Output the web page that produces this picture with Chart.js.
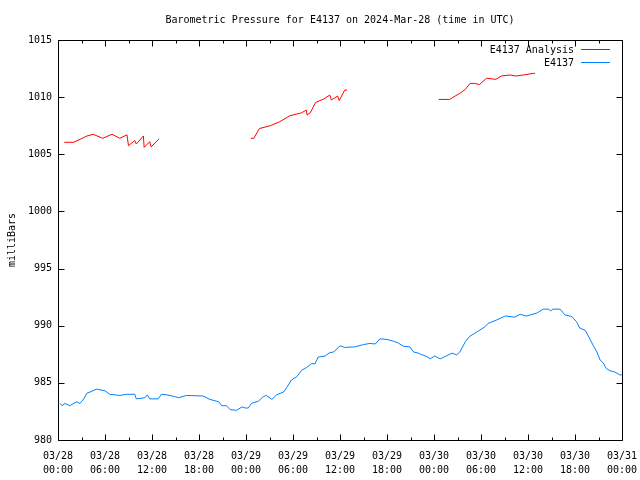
<!DOCTYPE html>
<html>
<head>
<meta charset="utf-8">
<script src="https://cdn.jsdelivr.net/npm/chart.js@4.4.1/dist/chart.umd.min.js"></script>
<style>
  html, body { margin: 0; padding: 0; background: #fff; }
  canvas { display: block; }
</style>
</head>
<body>
<canvas id="pressureChart" width="640" height="480"></canvas>
<script>
// Hours since 2024-03-28 00:00 UTC
const tickLabels = [
    ['03/28', '00:00'], ['03/28', '06:00'], ['03/28', '12:00'], ['03/28', '18:00'],
    ['03/29', '00:00'], ['03/29', '06:00'], ['03/29', '12:00'], ['03/29', '18:00'],
    ['03/30', '00:00'], ['03/30', '06:00'], ['03/30', '12:00'], ['03/30', '18:00'],
    ['03/31', '00:00']
];

const seriesNames = ['E4137 Analysis', 'E4137'];
const seriesColors = ['#ff0000', '#0080ff'];

// Analysis series (gaps are null)
const analysisHours = [
    0.8, 2.0, 3.7, 4.5, 5.7, 6.9, 7.9, 8.8, 9.0, 9.8, 10.0, 10.9, 11.0, 11.7, 11.9, 12.9,
    18.0,
    24.6, 25.0, 25.7, 27.1, 28.3, 29.6, 31.1, 31.7, 31.8, 32.2, 32.9, 33.9, 34.7, 34.9, 35.7, 35.9, 36.6, 36.9,
    42.0,
    48.6, 50.0, 50.7, 51.3, 52.0, 52.6, 53.2, 53.8, 54.7, 55.9, 56.6, 57.7, 58.5, 59.4, 60.7, 60.9
];
const analysisValues = [
    1006.05, 1006.05, 1006.6, 1006.75, 1006.4, 1006.75, 1006.4, 1006.7, 1005.75, 1006.2, 1005.9, 1006.6, 1005.6, 1006.1, 1005.65, 1006.35,
    null,
    1006.4, 1006.4, 1007.25, 1007.5, 1007.85, 1008.37, 1008.63, 1008.87, 1008.43, 1008.63, 1009.54, 1009.83, 1010.18, 1009.75, 1010.1, 1009.7, 1010.62, 1010.62,
    null,
    1009.8, 1009.8, 1010.1, 1010.33, 1010.68, 1011.2, 1011.2, 1011.1, 1011.65, 1011.56, 1011.85, 1011.94, 1011.85, 1011.94, 1012.08, 1012.08
];

// Observed series
const obsHours = [
    0.3, 0.5, 0.9, 1.5, 2.4, 2.8, 3.2, 3.7, 4.1, 4.9, 6.0, 6.6, 7.9, 8.8, 9.8, 10.0,
    11.1, 11.4, 11.7, 12.8, 13.2, 13.9, 14.9, 15.4, 16.4, 18.5, 19.4, 20.5, 20.9, 21.5,
    22.0, 22.8, 23.5, 23.9, 24.3, 24.7, 25.6, 26.2, 26.6, 27.3, 27.9, 28.8, 29.2, 29.8,
    30.5, 31.1, 31.75, 32.4, 32.8, 33.2, 34.1, 34.7, 35.2, 36.0, 36.6, 37.9, 39.0, 39.8,
    40.5, 41.1, 42.0, 42.8, 43.4, 44.1, 44.9, 45.4, 46.0, 46.3, 47.1, 47.5, 48.1, 48.8,
    49.4, 50.3, 50.9, 51.3, 52.0, 52.6, 53.0, 53.7, 54.5, 54.9, 56.0, 57.1, 58.3, 59.0,
    59.8, 61.1, 61.95, 62.6, 62.9, 63.2, 64.1, 64.7, 65.6, 66.2, 66.6, 67.3, 67.7, 68.3,
    68.8, 69.2, 69.6, 70.0, 70.5, 71.1, 71.7, 72.0
];
const obsValues = [
    983.2, 983.0, 983.2, 983.0, 983.35, 983.2, 983.5, 984.1, 984.2, 984.45, 984.3, 984.0, 983.9, 984.0, 984.0, 983.6,
    983.7, 983.95, 983.6, 983.6, 984.0, 983.95, 983.8, 983.7, 983.9, 983.85, 983.55, 983.35, 983.0, 983.0,
    982.65, 982.6, 982.9, 982.8, 982.8, 983.2, 983.4, 983.8, 983.9, 983.55, 983.95, 984.2, 984.6, 985.25,
    985.55, 986.1, 986.35, 986.7, 986.65, 987.25, 987.35, 987.65, 987.7, 988.25, 988.1, 988.15, 988.35, 988.45,
    988.4, 988.85, 988.8, 988.65, 988.5, 988.2, 988.15, 987.7, 987.6, 987.5, 987.3, 987.1, 987.35, 987.1,
    987.3, 987.6, 987.45, 987.7, 988.6, 989.1, 989.25, 989.55, 989.9, 990.2, 990.5, 990.85, 990.75, 991.0,
    990.85, 991.1, 991.45, 991.45, 991.3, 991.45, 991.45, 990.95, 990.8, 990.35, 989.8, 989.6, 989.1, 988.3,
    987.7, 987.0, 986.75, 986.25, 986.05, 985.95, 985.7, 985.7
];

const FONT = '10px "DejaVu Sans Mono", "Liberation Mono", monospace';

// Frame, inward ticks, title and legend in gnuplot style
const gnuplotDecor = {
    id: 'gnuplotDecor',
    afterDraw(chart) {
        const ctx = chart.ctx;
        const area = chart.chartArea;
        const xs = chart.scales.x;
        const ys = chart.scales.y;
        const L = Math.round(area.left) + 0.5, R = Math.round(area.right) + 0.5;
        const T = Math.round(area.top) + 0.5, B = Math.round(area.bottom) + 0.5;

        ctx.save();
        ctx.strokeStyle = '#000';
        ctx.lineWidth = 1;
        ctx.beginPath();
        ctx.rect(L, T, R - L, B - T);

        // x ticks: major every 6 h, minor every 3 h
        for (let h = 0; h <= 72; h += 3) {
            const px = Math.round(xs.getPixelForValue(h)) + 0.5;
            const len = (h % 6 === 0) ? 6 : 3;
            ctx.moveTo(px, B); ctx.lineTo(px, B - len);
            ctx.moveTo(px, T); ctx.lineTo(px, T + len);
        }
        // y ticks every 5 mb
        for (let v = 980; v <= 1015; v += 5) {
            const py = Math.round(ys.getPixelForValue(v)) + 0.5;
            ctx.moveTo(L, py); ctx.lineTo(L + 6, py);
            ctx.moveTo(R, py); ctx.lineTo(R - 6, py);
        }
        ctx.stroke();

        // title
        ctx.fillStyle = '#000';
        ctx.font = FONT;
        ctx.textAlign = 'center';
        ctx.textBaseline = 'middle';
        ctx.fillText('Barometric Pressure for E4137 on 2024-Mar-28 (time in UTC)', (area.left + area.right) / 2, 20);

        // legend (text right-aligned, then a short line sample)
        ctx.textAlign = 'right';
        seriesNames.forEach((name, i) => {
            const y = 49 + i * 13;
            ctx.fillStyle = '#000';
            ctx.fillText(name, 574, y + 1);
            ctx.fillStyle = seriesColors[i];
            ctx.fillRect(581, y, 29, 1);
        });
        ctx.restore();
    }
};

const ctx = document.getElementById('pressureChart').getContext('2d');

new Chart(ctx, {
    type: 'line',
    data: {
        datasets: [
            {
                label: seriesNames[0],
                data: analysisHours.map((h, i) => ({ x: h, y: analysisValues[i] })),
                borderColor: seriesColors[0],
                borderWidth: 1,
                pointRadius: 0,
                spanGaps: false,
                tension: 0
            },
            {
                label: seriesNames[1],
                data: obsHours.map((h, i) => ({ x: h, y: obsValues[i] })),
                borderColor: seriesColors[1],
                borderWidth: 1,
                pointRadius: 0,
                tension: 0
            }
        ]
    },
    options: {
        responsive: false,
        animation: false,
        layout: { padding: { top: 40, right: 18, left: 0, bottom: 0 } },
        plugins: {
            legend: { display: false },
            title: { display: false },
            tooltip: { enabled: false }
        },
        scales: {
            x: {
                type: 'linear',
                min: 0,
                max: 72,
                grid: { display: false, drawTicks: false },
                border: { display: false },
                ticks: {
                    stepSize: 6,
                    autoSkip: false,
                    maxRotation: 0,
                    padding: 9,
                    color: '#000',
                    font: { family: '"DejaVu Sans Mono", monospace', size: 10, lineHeight: 1.4 },
                    callback: (v) => tickLabels[Math.round(v / 6)]
                },
                afterFit: (scale) => {
                    scale.height = 40;
                    scale.paddingLeft = 0;
                    scale.paddingRight = 0;
                }
            },
            y: {
                min: 980,
                max: 1015,
                grid: { display: false, drawTicks: false },
                border: { display: false },
                ticks: {
                    stepSize: 5,
                    padding: 6,
                    color: '#000',
                    font: { family: '"DejaVu Sans Mono", monospace', size: 10 },
                    callback: (v) => String(v)
                },
                title: {
                    display: true,
                    text: 'milliBars',
                    color: '#000',
                    font: { family: '"DejaVu Sans Mono", monospace', size: 10 },
                    padding: { top: 6, bottom: 4 }
                },
                afterFit: (scale) => {
                    scale.width = 58;
                    scale.paddingTop = 0;
                    scale.paddingBottom = 0;
                }
            }
        }
    },
    plugins: [gnuplotDecor]
});
</script>
</body>
</html>
